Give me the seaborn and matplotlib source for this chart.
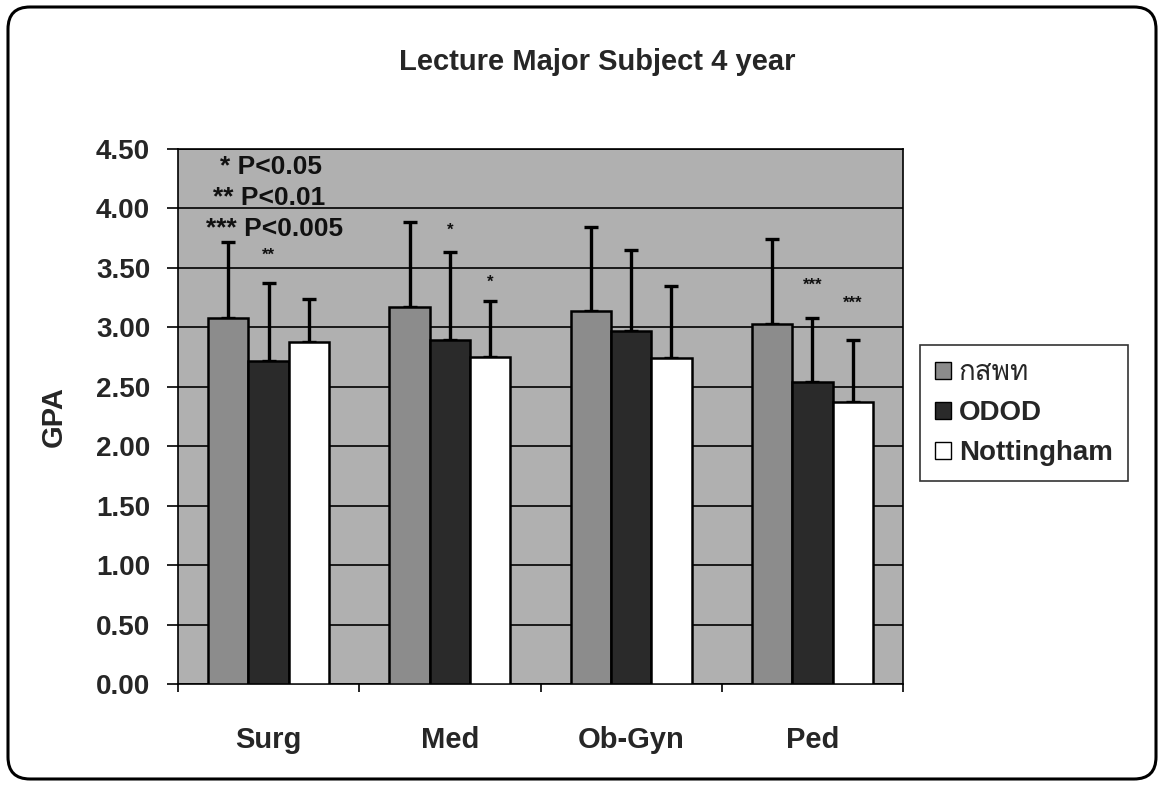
import numpy as np
import pandas as pd
import matplotlib
matplotlib.use("Agg")
import matplotlib.pyplot as plt
import seaborn as sns
from matplotlib import font_manager as fm
from matplotlib.ft2font import FT2Font
from matplotlib.patches import FancyBboxPatch, Patch

# ---------------- data ----------------
subjects = ["Surg", "Med", "Ob-Gyn", "Ped"]
groups = ["กสพท", "ODOD", "Nottingham"]
gpa_ksp = [3.08, 3.17, 3.14, 3.03]
gpa_odod = [2.72, 2.89, 2.97, 2.54]
gpa_nott = [2.88, 2.75, 2.74, 2.37]
sd_ksp = [0.64, 0.72, 0.70, 0.71]
sd_odod = [0.65, 0.74, 0.68, 0.54]
sd_nott = [0.36, 0.47, 0.61, 0.52]
yticks = [0.0, 0.5, 1.0, 1.5, 2.0, 2.5, 3.0, 3.5, 4.0, 4.5]
sig_labels = ["**", "*", "*", "***", "***"]
sig_group = ["ODOD", "ODOD", "Nottingham", "ODOD", "Nottingham"]
sig_subject = ["Surg", "Med", "Med", "Ped", "Ped"]
sig_y = [3.61, 3.82, 3.38, 3.35, 3.20]
legend_notes = ["* P<0.05", "** P<0.01", "*** P<0.005"]

df = pd.DataFrame({
    "subject": subjects * 3,
    "group": [g for g in groups for _ in subjects],
    "gpa": gpa_ksp + gpa_odod + gpa_nott,
    "sd": sd_ksp + sd_odod + sd_nott,
})

# ---------------- fonts ----------------
sns.set_theme(style="white")
thai_font = None
for f in fm.fontManager.ttflist:
    try:
        cmap = FT2Font(f.fname).get_charmap()
        if 0x0E01 in cmap and 0x0E2A in cmap and 0x0E1E in cmap:
            thai_font = f.name
            break
    except Exception:
        pass
fam = ["Liberation Sans", "DejaVu Sans"]
if thai_font:
    fam.append(thai_font)
plt.rcParams["font.family"] = fam

# ---------------- figure ----------------
fig = plt.figure(figsize=(11.64, 7.85), dpi=100)
ax = fig.add_axes([178 / 1164, 1 - 684 / 785, (903 - 178) / 1164, (684 - 149) / 785])
ax.set_facecolor("#b0b0b0")

palette = {"กสพท": "#8c8c8c", "ODOD": "#2a2a2a", "Nottingham": "#ffffff"}
sns.barplot(data=df, x="subject", y="gpa", hue="group", hue_order=groups,
            order=subjects, palette=palette, width=0.667, gap=0,
            edgecolor="black", linewidth=1.8, errorbar=None, legend=False,
            ax=ax, zorder=3)

# one-sided error bars
for cont, g in zip(ax.containers, groups):
    sub = df[df.group == g].set_index("subject").loc[subjects]
    xs = [b.get_x() + b.get_width() / 2 for b in cont]
    ys = [b.get_height() for b in cont]
    ax.errorbar(xs, ys, yerr=[np.zeros(len(xs)), sub["sd"].values], fmt="none",
                ecolor="black", elinewidth=2.4, capsize=5, capthick=2.4, zorder=2)

# significance stars
bar_x = {}
for cont, g in zip(ax.containers, groups):
    for b, s in zip(cont, subjects):
        bar_x[(g, s)] = b.get_x() + b.get_width() / 2
for lab, g, s, y in zip(sig_labels, sig_group, sig_subject, sig_y):
    ax.text(bar_x[(g, s)], y, lab, ha="center", va="center", fontsize=12,
            fontweight="bold", color="#111111", zorder=5)

# notes
note_x = [-0.267, -0.306, -0.344]
note_y = [4.35, 4.09, 3.83]
for t, x, y in zip(legend_notes, note_x, note_y):
    ax.text(x, y, t, ha="left", va="center", fontsize=19, fontweight="bold",
            color="#111111", zorder=5)

ax.set_ylim(0, 4.5)
ax.set_xlim(-0.5, 3.5)
ax.set_yticks(yticks)
ax.set_yticklabels([f"{v:.2f}" for v in yticks], fontsize=20, fontweight="bold")
ax.yaxis.grid(True, color="black", linewidth=1.2, zorder=1)
ax.set_axisbelow(True)
ax.set_xticks([-0.5, 0.5, 1.5, 2.5, 3.5], minor=False)
ax.set_xticklabels([])
ax.set_xticks(range(len(subjects)), minor=True)
ax.set_xticklabels(subjects, minor=True, fontsize=21, fontweight="bold")
ax.tick_params(axis="x", which="minor", length=0, pad=30)
ax.tick_params(axis="x", which="major", length=6, width=1.2, direction="out", color="black", bottom=True)
ax.tick_params(axis="y", length=8, width=1.2, direction="out", color="black", left=True, pad=12)
ax.set_xlabel("")
ax.set_ylabel("GPA", fontsize=21, fontweight="bold", labelpad=20)
for sp in ax.spines.values():
    sp.set_color("black")
    sp.set_linewidth(1.2)

# legend
handles = [Patch(facecolor=palette[g], edgecolor="black", linewidth=1.0, label=g) for g in groups]
leg = fig.legend(handles=handles, loc="upper left",
                 bbox_to_anchor=(920 / 1164, 1 - 345 / 785), frameon=True,
                 fancybox=False, edgecolor="black", fontsize=20,
                 handlelength=0.55, handleheight=0.55, handletextpad=0.3,
                 labelspacing=0.5, borderpad=0.55, borderaxespad=0)
leg.get_frame().set_linewidth(1.2)
for t in leg.get_texts():
    t.set_fontweight("bold")
if thai_font:
    leg.get_texts()[0].set_fontfamily([thai_font, "DejaVu Sans"])
    leg.get_texts()[0].set_fontweight("normal")

# title
fig.text(597 / 1164, 1 - 62 / 785, "Lecture Major Subject 4 year",
         ha="center", va="center", fontsize=21, fontweight="bold")

# rounded outer border
border = FancyBboxPatch((0.08, 0.06), 11.48, 7.72, boxstyle="round,pad=0,rounding_size=0.22",
                        transform=fig.dpi_scale_trans, facecolor="none",
                        edgecolor="black", linewidth=2.2)
fig.patches.append(border)

fig.savefig("out.png", dpi=100, facecolor="white")
